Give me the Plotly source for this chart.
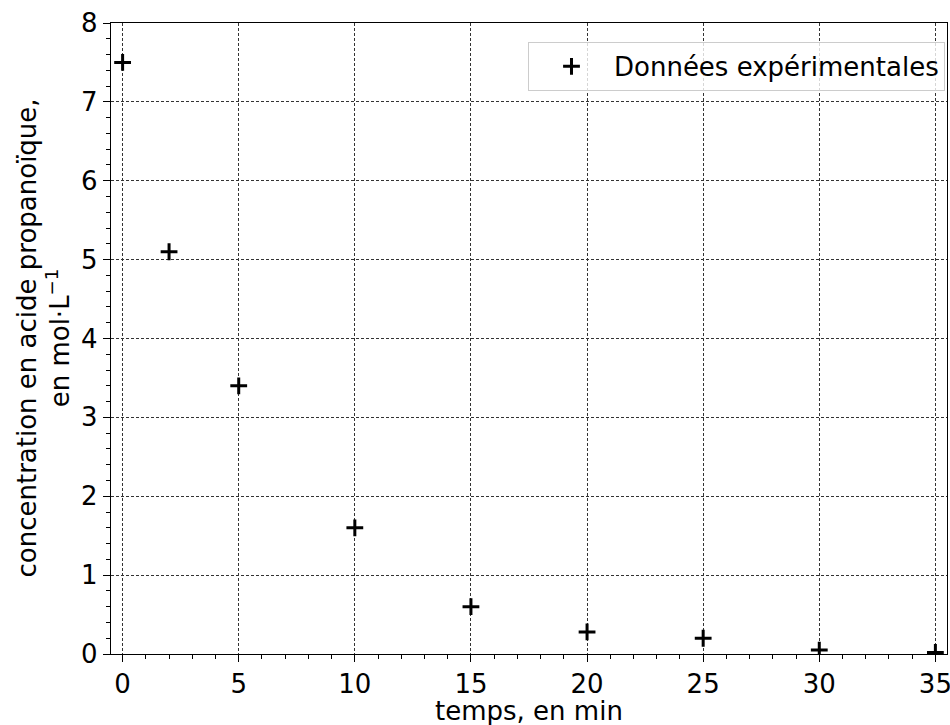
import plotly.graph_objects as go

temps = [0, 2, 5, 10, 15, 20, 25, 30, 35]
concentration = [7.5, 5.1, 3.4, 1.6, 0.6, 0.28, 0.2, 0.05, 0.02]

x_ticks = [0, 5, 10, 15, 20, 25, 30, 35]
y_ticks = [0, 1, 2, 3, 4, 5, 6, 7, 8]

font = "DejaVu Sans"
fs = 26

fig = go.Figure()
fig.add_trace(go.Scatter(
    x=temps, y=concentration, mode="markers",
    name="Données expérimentales",
    marker=dict(symbol="cross-thin", size=12, color="black",
                line=dict(color="black", width=3)),
))

axis_common = dict(
    showline=True, linecolor="black", linewidth=1.3, mirror=True,
    ticks="outside", ticklen=7, tickwidth=1.2, tickcolor="black",
    showgrid=True, gridcolor="#333", griddash="3px,2px", gridwidth=0.8,
    zeroline=False, ticklabeloverflow="allow", automargin=False,
    tickfont=dict(family=font, size=fs, color="black"),
)

fig.update_xaxes(
    range=[-0.5, 35.5], tickvals=x_ticks,
    minor=dict(dtick=1, tick0=0, ticks="outside", ticklen=4, tickcolor="black", showgrid=False),
    **axis_common,
)
fig.update_yaxes(
    range=[0, 8], tickvals=y_ticks,
    minor=dict(dtick=0.2, tick0=0, ticks="outside", ticklen=4, tickcolor="black", showgrid=False),
    **axis_common,
)

title_font = dict(family=font, size=fs, color="black")
fig.add_annotation(
    text="temps, en min", xref="x domain", yref="y domain", x=0.5, y=0,
    xanchor="center", yanchor="top", yshift=-40, showarrow=False, font=title_font,
)
fig.add_annotation(
    text="concentration en acide propanoïque,<br>en mol·L<sup>−1</sup>",
    xref="x domain", yref="y domain", x=0, y=0.5, textangle=-90,
    xanchor="right", yanchor="middle", xshift=-34, showarrow=False, font=title_font,
)

fig.update_layout(
    width=950, height=725,
    margin=dict(l=111, r=3, t=23, b=71),
    plot_bgcolor="white", paper_bgcolor="white",
    showlegend=True,
    legend=dict(
        x=0.9976, y=0.97, xanchor="right", yanchor="top",
        bgcolor="rgba(255,255,255,0.8)", bordercolor="#ccc", borderwidth=1,
        font=dict(family=font, size=fs, color="black"),
        itemwidth=75,
    ),
)

fig.write_html(
    "out.html",
    config={"displayModeBar": False},
    post_script="document.body.style.margin='0';document.body.style.overflow='hidden';",
)
